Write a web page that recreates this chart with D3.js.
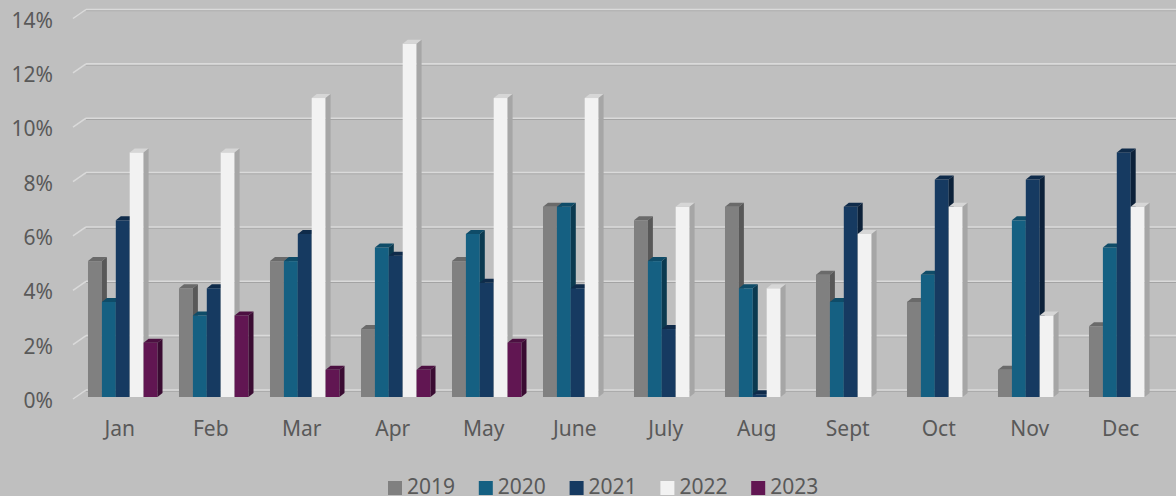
<!DOCTYPE html>
<html>
<head>
<meta charset="utf-8">
<script src="https://cdn.jsdelivr.net/npm/d3@7"></script>
<style>
  html, body { margin: 0; padding: 0; background: #bfbfbf; }
  svg { display: block; font-family: "Noto Sans", "Open Sans", sans-serif; }
</style>
</head>
<body>
<svg id="chart"></svg>
<script>
// chart size
const width = 1176;
const height = 496;

// data
const months = ["Jan", "Feb", "Mar", "Apr", "May", "June", "July", "Aug", "Sept", "Oct", "Nov", "Dec"];
const years = ["2019", "2020", "2021", "2022", "2023"];
const v2019 = [5, 4, 5, 2.5, 5, 7, 6.5, 7, 4.5, 3.5, 1, 2.6];
const v2020 = [3.5, 3, 5, 5.5, 6, 7, 5, 4, 3.5, 4.5, 6.5, 5.5];
const v2021 = [6.5, 4, 6, 5.2, 4.2, 4, 2.5, 0.1, 7, 8, 8, 9];
const v2022 = [9, 9, 11, 13, 11, 11, 7, 4, 6, 7, 3, 7];
const v2023 = [2, 3, 1, 1, 2, null, null, null, null, null, null, null];
const yTicks = [0, 2, 4, 6, 8, 10, 12, 14];

const seriesValues = [v2019, v2020, v2021, v2022, v2023];

// colours per series: front, top, side
const colors = [
  { front: "#808080", top: "#6a6a6a", side: "#585858" },
  { front: "#156082", top: "#0f4c68", side: "#0b3a50" },
  { front: "#163a61", top: "#0f2b4a", side: "#0c2139" },
  { front: "#f2f2f2", top: "#d6d6d6", side: "#a6a6a6" },
  { front: "#611652", top: "#4c1041", side: "#3a0c32" }
];

const svg = d3.select("#chart").attr("width", width).attr("height", height);

// scales: front plane for bars, back wall for gridlines
const yFront = d3.scaleLinear().domain([0, 14]).range([397, 16.5]);
const yBack = d3.scaleLinear().domain([0, 14]).range([390, 9.5]);

const x0 = d3.scaleBand().domain(months).range([77.25, 1169.25])
  .paddingInner(0.236).paddingOuter(0.118);
const x1 = d3.scaleBand().domain(years).range([0, x0.bandwidth()]);

const depthX = 5, depthY = 4;
const wallX = 86, sideX = 73, sideDY = 9;

// gridlines on back wall + side wall diagonals
const grid = svg.append("g");
yTicks.forEach(t => {
  const yb = yBack(t);
  grid.append("line")
    .attr("x1", wallX).attr("x2", width)
    .attr("y1", yb + 1.2).attr("y2", yb + 1.2)
    .attr("stroke", "#a3a3a3").attr("stroke-width", 1);
  grid.append("line")
    .attr("x1", wallX).attr("x2", width)
    .attr("y1", yb).attr("y2", yb)
    .attr("stroke", "#dadada").attr("stroke-width", 1.6);
  grid.append("line")
    .attr("x1", sideX).attr("y1", yb + sideDY)
    .attr("x2", wallX).attr("y2", yb)
    .attr("stroke", "#dadada").attr("stroke-width", 1.5);
});

// y axis labels
svg.append("g")
  .selectAll("text")
  .data(yTicks)
  .enter()
  .append("text")
  .attr("x", 53)
  .attr("y", d => yBack(d) + sideDY + 1)
  .attr("text-anchor", "end")
  .attr("dominant-baseline", "central")
  .style("fill", "#595959")
  .style("font-size", "21px")
  .text(d => d + "%");

// bars
const bars = svg.append("g");
months.forEach((m, i) => {
  const g = bars.append("g").attr("transform", `translate(${x0(m)},0)`);
  years.forEach((yr, s) => {
    const v = seriesValues[s][i];
    if (v === null || v === undefined) return;
    const x = x1(yr);
    const w = x1.bandwidth();
    const yt = yFront(v);
    const yb = yFront(0);
    const c = colors[s];
    g.append("rect")
      .attr("x", x).attr("y", yt)
      .attr("width", w).attr("height", yb - yt)
      .attr("fill", c.front);
    g.append("polygon")
      .attr("points", [[x, yt], [x + depthX, yt - depthY], [x + w + depthX, yt - depthY], [x + w, yt]].join(" "))
      .attr("fill", c.top);
    g.append("polygon")
      .attr("points", [[x + w, yt], [x + w + depthX, yt - depthY], [x + w + depthX, yb - depthY], [x + w, yb]].join(" "))
      .attr("fill", c.side);
  });
});

// x axis labels
svg.append("g")
  .selectAll("text")
  .data(months)
  .enter()
  .append("text")
  .attr("x", d => x0(d) + x0.bandwidth() / 2 - 3)
  .attr("y", 436)
  .attr("text-anchor", "middle")
  .style("fill", "#595959")
  .style("font-size", "21px")
  .text(d => d);

// legend
const legend = svg.append("g")
  .selectAll("g")
  .data(years)
  .enter()
  .append("g")
  .attr("transform", (d, i) => `translate(${388 + i * 90.8},0)`);

legend.append("rect")
  .attr("x", 0).attr("y", 481)
  .attr("width", 14).attr("height", 14)
  .attr("fill", (d, i) => colors[i].front);

legend.append("text")
  .attr("x", 19)
  .attr("y", 494)
  .style("fill", "#595959")
  .style("font-size", "21px")
  .text(d => d);
</script>
</body>
</html>
